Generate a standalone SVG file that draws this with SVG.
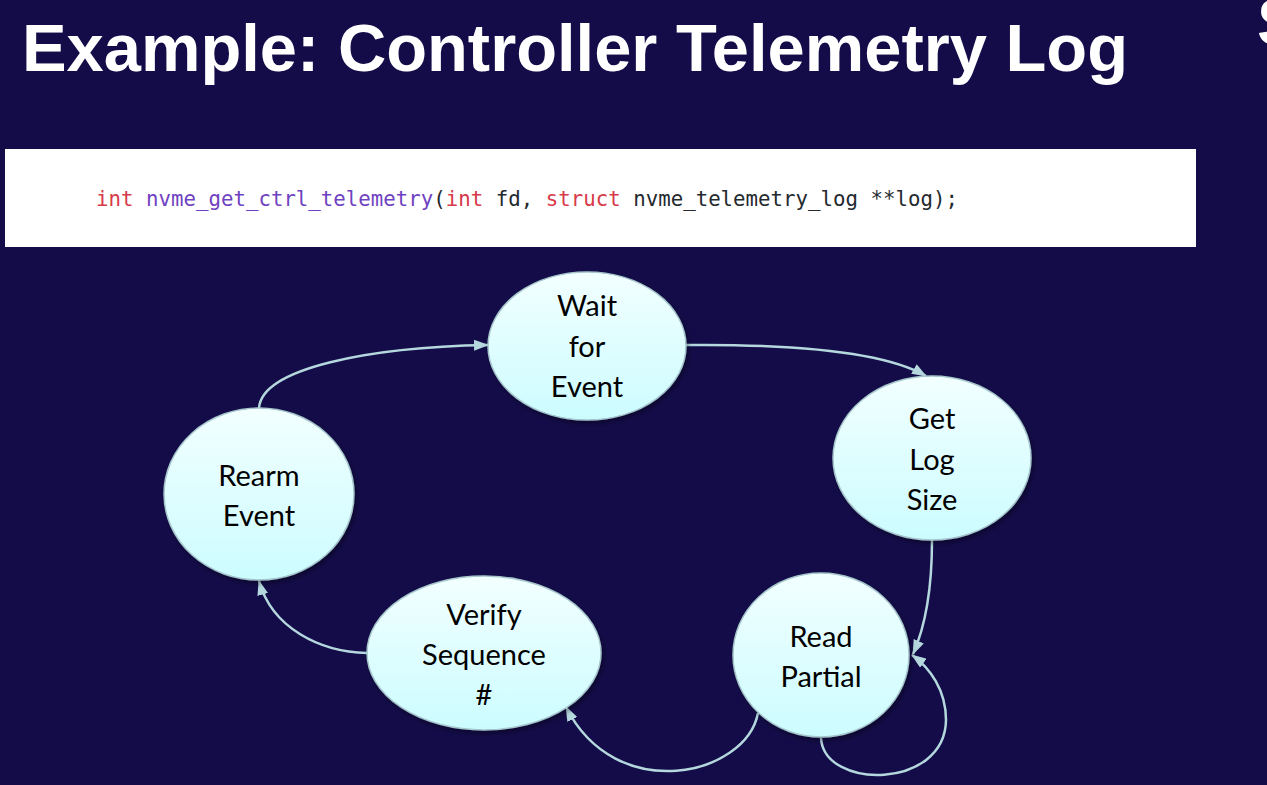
<svg xmlns="http://www.w3.org/2000/svg" width="1267" height="785" viewBox="0 0 1267 785">
<defs>
<linearGradient id="nodeFill" x1="0" y1="0" x2="0" y2="1">
<stop offset="0" stop-color="#f2ffff"/>
<stop offset="1" stop-color="#ccfcff"/>
</linearGradient>
<filter id="shadow" x="-10%" y="-10%" width="125%" height="125%">
<feDropShadow dx="2" dy="3" stdDeviation="2" flood-color="#000" flood-opacity="0.35"/>
</filter>
<marker id="arrow" viewBox="0 0 15 11" refX="14" refY="5.5" markerWidth="15" markerHeight="11" markerUnits="userSpaceOnUse" orient="auto">
<path d="M0,0 L15,5.5 L0,11 Z" fill="#b4d8de"/>
</marker>
</defs>
<style>
.title{font-family:"Liberation Sans",Arial,sans-serif;font-weight:bold;font-size:67px;fill:#ffffff}
.code{font-family:"DejaVu Sans Mono","Liberation Mono",monospace;font-size:20.5px;fill:#24292e}
.kw{fill:#d73a49}
.fn{fill:#6f42c1}
.node ellipse{fill:url(#nodeFill);stroke:#a6c6cc;stroke-width:1.5;filter:url(#shadow)}
.node text{font-family:Lato,"Open Sans",sans-serif;font-size:29px;fill:#000000;text-anchor:middle}
.edge{fill:none;stroke:#b4d8de;stroke-width:2.5;marker-end:url(#arrow)}
</style>
<rect x="0" y="0" width="1267" height="785" fill="#130c48"/>
<text class="title" x="22" y="71" textLength="1106" lengthAdjust="spacingAndGlyphs">Example: Controller Telemetry Log</text>
<text class="title" x="1257" y="45">S</text>
<rect x="5" y="149" width="1191" height="98" fill="#ffffff"/>
<text class="code" x="96" y="206" textLength="862" lengthAdjust="spacingAndGlyphs"><tspan class="kw">int</tspan> <tspan class="fn">nvme_get_ctrl_telemetry</tspan>(<tspan class="kw">int</tspan> fd, <tspan class="kw">struct</tspan> nvme_telemetry_log **log);</text>
<g id="connectors">
<path class="edge" d="M259,408 C262,368 370,347 488,345"/>
<path class="edge" d="M686,345 C800,344 885,352 926,376"/>
<path class="edge" d="M932,540 C932,590 926,625 913,654"/>
<path class="edge" d="M821,738 C824,790 945,790 946,720 C946,690 930,668 912,655"/>
<path class="edge" d="M758,713 C746,776 616,806 566,707"/>
<path class="edge" d="M367,653 C320,652 272,628 259,581"/>
</g>
<g id="wait" class="node">
<ellipse cx="587" cy="346" rx="99" ry="74"/>
<text x="587" y="316">Wait</text>
<text x="587" y="357">for</text>
<text x="587" y="397">Event</text>
</g>
<g id="getlogsize" class="node">
<ellipse cx="932" cy="458" rx="99" ry="82"/>
<text x="932" y="429">Get</text>
<text x="932" y="470">Log</text>
<text x="932" y="510">Size</text>
</g>
<g id="rearm" class="node">
<ellipse cx="259" cy="494" rx="95" ry="86"/>
<text x="259" y="486">Rearm</text>
<text x="259" y="526">Event</text>
</g>
<g id="verify" class="node">
<ellipse cx="484" cy="653" rx="117" ry="77"/>
<text x="484" y="625">Verify</text>
<text x="484" y="665">Sequence</text>
<text x="484" y="705">#</text>
</g>
<g id="readpartial" class="node">
<ellipse cx="821" cy="655" rx="88" ry="82"/>
<text x="821" y="647">Read</text>
<text x="821" y="687">Partial</text>
</g>
</svg>
